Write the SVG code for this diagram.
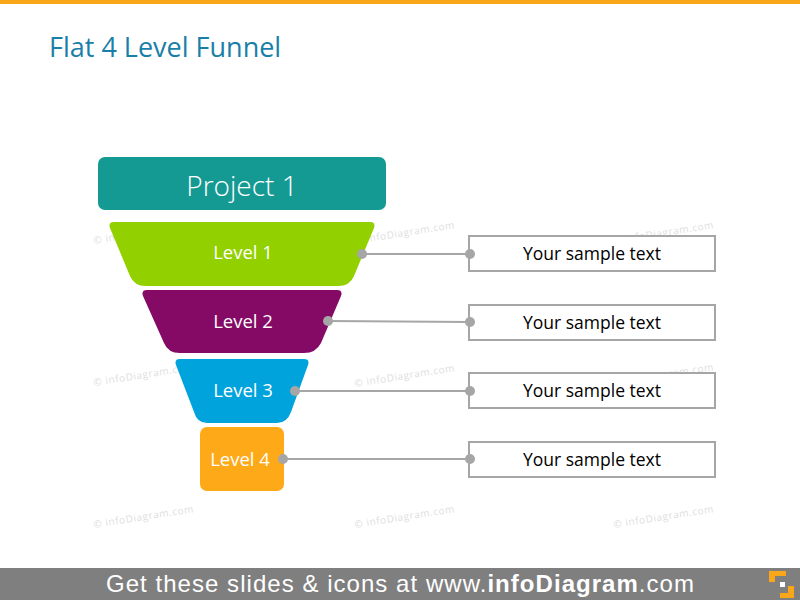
<svg xmlns="http://www.w3.org/2000/svg" width="800" height="600" viewBox="0 0 800 600">
<style>
.wm{font-family:"Open Sans","Liberation Sans",sans-serif;font-size:10px;fill:#DEDEDE;letter-spacing:0.6px}
.lvl{font-family:"Open Sans","Liberation Sans",sans-serif;font-size:18.5px;fill:#FFFFFF;text-anchor:middle}
.box{fill:#FFFFFF;stroke:#A6A6A6;stroke-width:2}
.bt{font-family:"Open Sans","Liberation Sans",sans-serif;font-size:17.5px;fill:#000000;text-anchor:middle}
.ln{stroke:#A6A6A6;stroke-width:2;fill:none}
.dot{fill:#A6A6A6}
</style>
<rect x="0" y="0" width="800" height="600" fill="#FFFFFF"/>
<rect x="0" y="0" width="800" height="4" fill="#F9A61A"/>
<text x="49" y="57" font-family="'Open Sans','Liberation Sans',sans-serif" font-size="27" fill="#1A7FA8">Flat 4 Level Funnel</text>
<g id="watermarks">
<text class="wm" transform="translate(94,244) rotate(-9)">© infoDiagram.com</text>
<text class="wm" transform="translate(355,244) rotate(-9)">© infoDiagram.com</text>
<text class="wm" transform="translate(614,244) rotate(-9)">© infoDiagram.com</text>
<text class="wm" transform="translate(94,386) rotate(-9)">© infoDiagram.com</text>
<text class="wm" transform="translate(355,387) rotate(-9)">© infoDiagram.com</text>
<text class="wm" transform="translate(614,386) rotate(-9)">© infoDiagram.com</text>
<text class="wm" transform="translate(94,528) rotate(-9)">© infoDiagram.com</text>
<text class="wm" transform="translate(355,528) rotate(-9)">© infoDiagram.com</text>
<text class="wm" transform="translate(614,528) rotate(-9)">© infoDiagram.com</text>
</g>
<g id="project">
<rect x="98" y="157" width="288" height="53" rx="7" fill="#159A93"/>
<text x="242" y="196" text-anchor="middle" font-family="'Open Sans','Liberation Sans',sans-serif" font-size="28" fill="#FFFFFF" font-weight="300">Project 1</text>
</g>
<g id="level1">
<path d="M114,222 L370,222 Q376,222 374,228 L354,276 Q350,286 338,286 L146,286 Q134,286 130,276 L110,228 Q108,222 114,222 Z" fill="#92D000"/>
<text class="lvl" x="243" y="259">Level 1</text>
</g>
<g id="level2">
<path d="M147,290 L337,290 Q343,290 341,296 L321,343 Q316,353 304,353 L180,353 Q168,353 164,343 L143,296 Q141,290 147,290 Z" fill="#850A66"/>
<text class="lvl" x="243" y="328">Level 2</text>
</g>
<g id="level3">
<path d="M180,359 L304,359 Q310,359 308,365 L291,412 Q287,423 277,423 L207,423 Q197,423 194,412 L176,365 Q174,359 180,359 Z" fill="#00A3DC"/>
<text class="lvl" x="243" y="397">Level 3</text>
</g>
<g id="level4">
<rect x="200" y="427" width="84" height="64" rx="7" fill="#FDA918"/>
<text class="lvl" x="240" y="466">Level 4</text>
</g>
<g id="box1">
<rect class="box" x="469" y="236" width="246" height="35"/>
<text class="bt" x="592" y="260">Your sample text</text>
</g>
<g id="box2">
<rect class="box" x="469" y="305" width="246" height="35"/>
<text class="bt" x="592" y="329">Your sample text</text>
</g>
<g id="box3">
<rect class="box" x="469" y="373" width="246" height="35"/>
<text class="bt" x="592" y="397">Your sample text</text>
</g>
<g id="box4">
<rect class="box" x="469" y="442" width="246" height="35"/>
<text class="bt" x="592" y="466">Your sample text</text>
</g>
<g id="connectors">
<line class="ln" x1="362" y1="254" x2="470" y2="254"/>
<line class="ln" x1="328" y1="321" x2="470" y2="322"/>
<line class="ln" x1="295" y1="391" x2="470" y2="391"/>
<line class="ln" x1="283" y1="459" x2="470" y2="459"/>
<circle class="dot" cx="362" cy="254" r="5"/>
<circle class="dot" cx="470" cy="254" r="5"/>
<circle class="dot" cx="328" cy="321" r="5"/>
<circle class="dot" cx="470" cy="322" r="5"/>
<circle class="dot" cx="295" cy="391" r="5"/>
<circle class="dot" cx="470" cy="391" r="5"/>
<circle class="dot" cx="283" cy="459" r="5"/>
<circle class="dot" cx="470" cy="459" r="5"/>
</g>
<g id="footer">
<rect x="0" y="568" width="800" height="32" fill="#7F7F7F"/>
<text x="106" y="592" textLength="588" lengthAdjust="spacing" font-family="'Liberation Sans',Arial,sans-serif" font-size="24" fill="#FFFFFF">Get these slides &amp; icons at www.<tspan font-weight="bold">infoDiagram</tspan>.com</text>
<path d="M769,571 H786 V576 H775 V582 H769 Z" fill="#F9A61A"/>
<rect x="780" y="582" width="5" height="5" fill="#FFFFFF"/>
<path d="M788,586 H794 V598 H780 V593 H788 Z" fill="#F9A61A"/>
</g>
</svg>
